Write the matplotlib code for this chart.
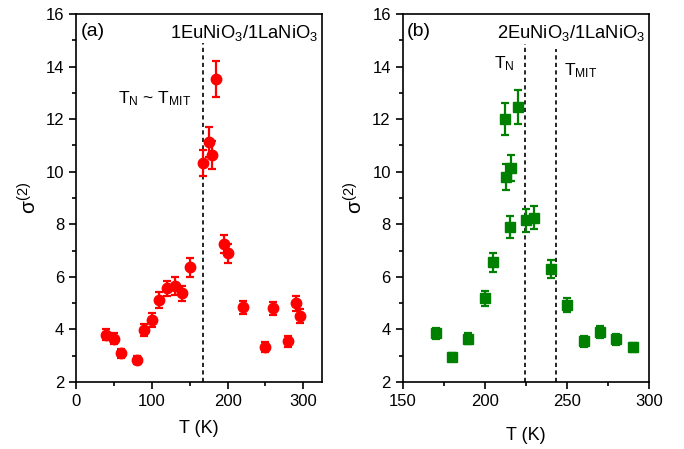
import matplotlib
matplotlib.use("Agg")
import matplotlib.pyplot as plt
from matplotlib.ticker import MultipleLocator

plt.rcParams['font.family'] = ['Liberation Sans', 'DejaVu Sans']
plt.rcParams['mathtext.fontset'] = 'custom'
plt.rcParams['mathtext.rm'] = 'Liberation Sans'
plt.rcParams['mathtext.it'] = 'Liberation Sans'

# panel (a): 1EuNiO3/1LaNiO3
temp_a = [40, 50, 60, 80, 90, 100, 110, 120, 130, 140, 150, 168, 175, 180, 185,
          195, 200, 220, 250, 260, 280, 290, 295]
sigma_a = [3.8, 3.65, 3.09, 2.84, 3.98, 4.36, 5.12, 5.56, 5.65, 5.37, 6.36, 10.32,
           11.12, 10.63, 13.54, 7.25, 6.9, 4.84, 3.34, 4.8, 3.55, 4.99, 4.51]
err_a = [0.2, 0.2, 0.18, 0.15, 0.22, 0.25, 0.29, 0.27, 0.33, 0.28, 0.35, 0.5,
         0.57, 0.54, 0.68, 0.36, 0.36, 0.25, 0.18, 0.25, 0.2, 0.27, 0.25]
tn_a = 167

# panel (b): 2EuNiO3/1LaNiO3
temp_b = [170, 180, 190, 200, 205, 212, 213, 216, 215, 220, 225, 230, 240, 250,
          260, 270, 280, 290]
sigma_b = [3.85, 2.94, 3.65, 5.18, 6.56, 12.0, 9.81, 10.13, 7.91, 12.47, 8.16,
           8.25, 6.29, 4.92, 3.55, 3.9, 3.62, 3.32]
err_b = [0.2, 0.15, 0.2, 0.29, 0.36, 0.62, 0.5, 0.5, 0.42, 0.65, 0.44, 0.44,
         0.34, 0.27, 0.2, 0.22, 0.2, 0.18]
tn_b = 224.5
tmit_b = 243

fig = plt.figure(figsize=(6.84, 4.49), dpi=100)
ax1 = fig.add_axes([0.1111, 0.1492, 0.3601, 0.8196])
ax2 = fig.add_axes([0.5887, 0.1492, 0.3606, 0.8196])

ax1.errorbar(temp_a, sigma_a, yerr=err_a, fmt='o', color='#ff0000', ms=7.5,
             elinewidth=1.6, capsize=3, capthick=1.6, zorder=3)
ax2.errorbar(temp_b, sigma_b, yerr=err_b, fmt='s', color='#008000', ms=6.5,
             elinewidth=1.6, capsize=3, capthick=1.6, zorder=3)

dash = (0, (2.5, 2))
ax1.axvline(tn_a, ymax=(14.9 - 2) / 14, color='k', ls=dash, lw=1.2, zorder=2)
ax2.axvline(tn_b, ymax=(14.86 - 2) / 14, color='k', ls=dash, lw=1.2, zorder=2)
ax2.axvline(tmit_b, ymax=(14.67 - 2) / 14, color='k', ls=dash, lw=1.2, zorder=2)

ax1.set_xlim(0, 325)
ax2.set_xlim(150, 300)
for ax in (ax1, ax2):
    ax.set_ylim(2, 16)
    ax.yaxis.set_major_locator(MultipleLocator(2))
    ax.yaxis.set_minor_locator(MultipleLocator(1))
    ax.tick_params(which='both', direction='out', top=False, right=False,
                   labelsize=12, width=1.2)
    ax.tick_params(which='major', length=5)
    ax.tick_params(which='minor', length=3)
    for sp in ax.spines.values():
        sp.set_linewidth(1.2)
    ax.set_ylabel(r'$\sigma^{(2)}$', fontsize=15, labelpad=4)
ax1.set_xlabel('T (K)', fontsize=13, labelpad=8)
ax2.set_xlabel('T (K)', fontsize=13, labelpad=13)
ax1.xaxis.set_major_locator(MultipleLocator(100))
ax1.xaxis.set_minor_locator(MultipleLocator(50))
ax2.xaxis.set_major_locator(MultipleLocator(50))
ax2.xaxis.set_minor_locator(MultipleLocator(25))

ax1.text(0.018, 0.975, '(a)', transform=ax1.transAxes, fontsize=14, va='top', ha='left')
ax1.text(0.985, 0.975, r'1EuNiO$_3$/1LaNiO$_3$', transform=ax1.transAxes,
         fontsize=13.2, va='top', ha='right')
ax1.text(55, 12.6, r'T$_\mathrm{N}$ ~ T$_\mathrm{MIT}$', fontsize=12.5, va='baseline')

ax2.text(0.018, 0.975, '(b)', transform=ax2.transAxes, fontsize=14, va='top', ha='left')
ax2.text(0.985, 0.975, r'2EuNiO$_3$/1LaNiO$_3$', transform=ax2.transAxes,
         fontsize=13.2, va='top', ha='right')
ax2.text(205.5, 13.94, r'T$_\mathrm{N}$', fontsize=12.5, va='baseline')
ax2.text(248, 13.68, r'T$_\mathrm{MIT}$', fontsize=12.5, va='baseline')

fig.savefig('out.png', dpi=100)
